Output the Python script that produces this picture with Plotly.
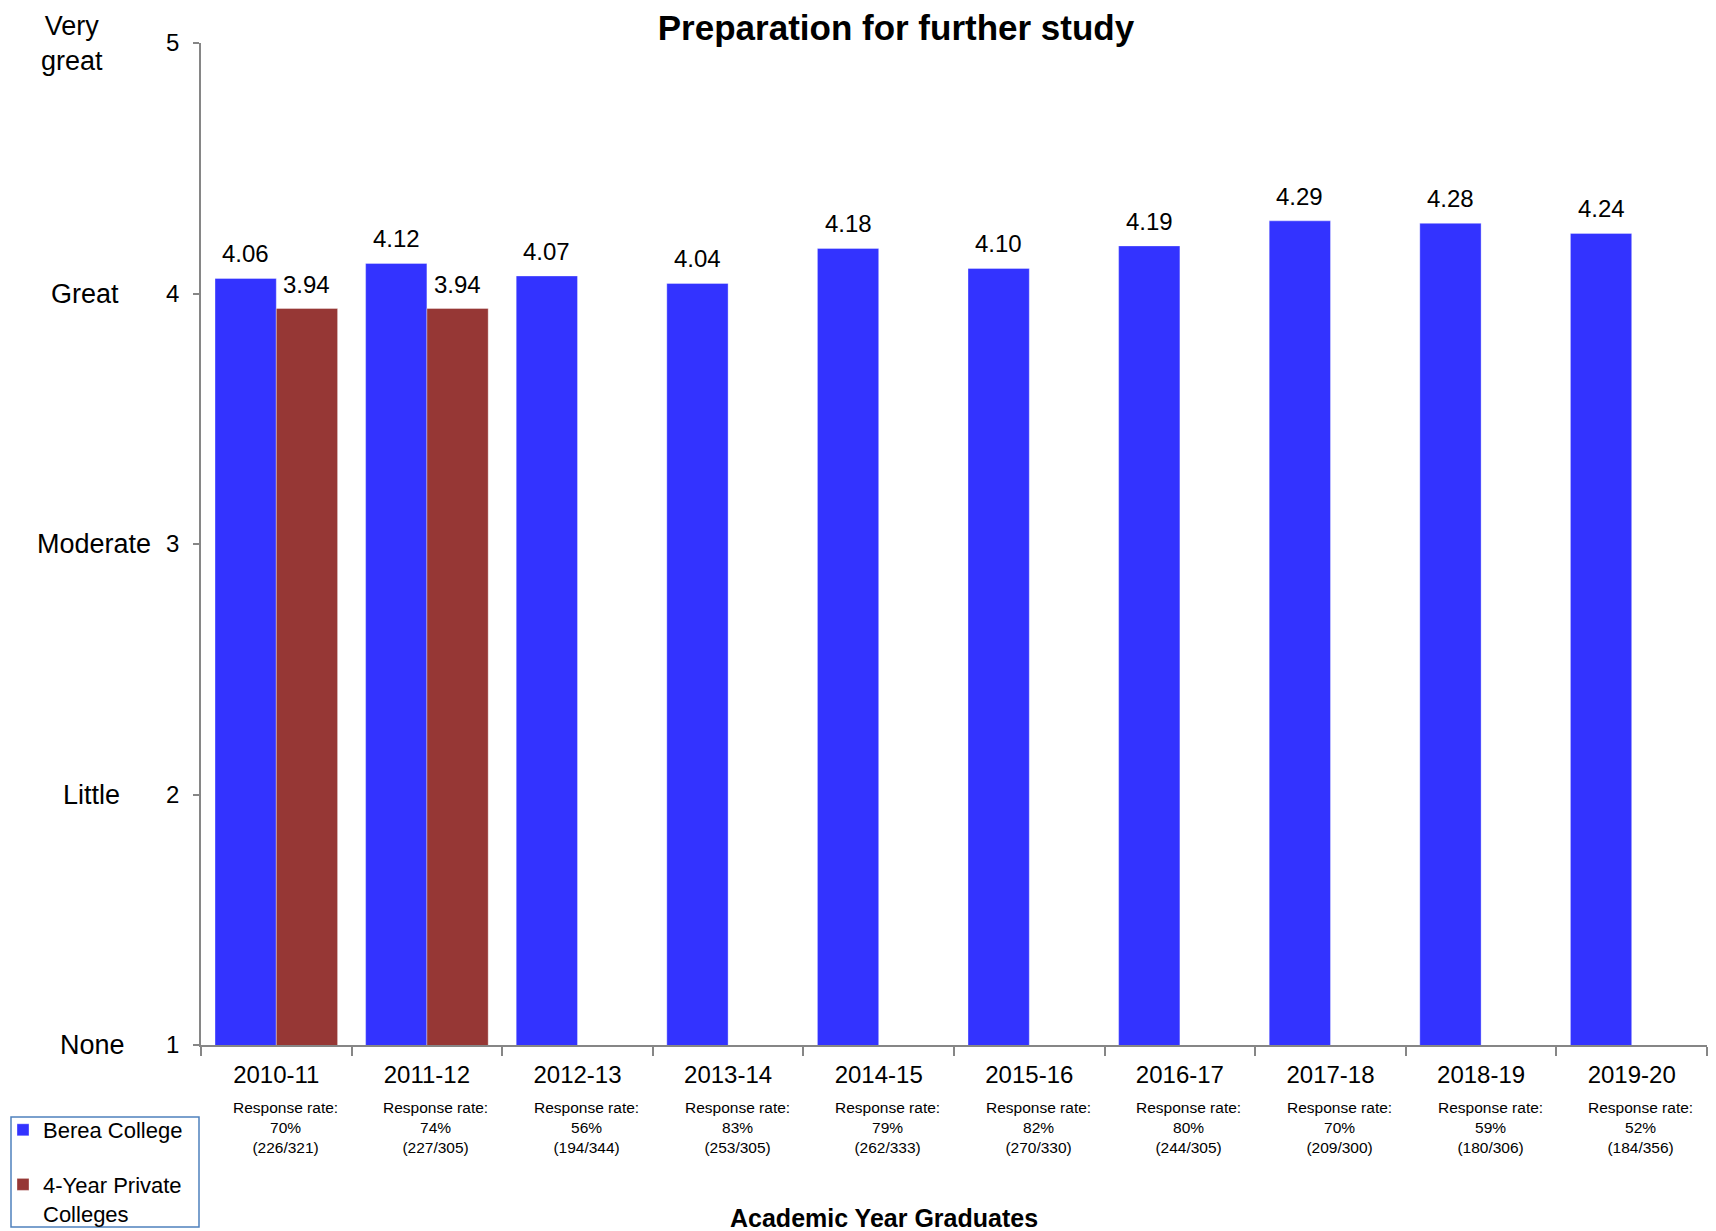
import plotly.graph_objects as go

years = ["2010-11", "2011-12", "2012-13", "2013-14", "2014-15",
         "2015-16", "2016-17", "2017-18", "2018-19", "2019-20"]
berea = [4.06, 4.12, 4.07, 4.04, 4.18, 4.10, 4.19, 4.29, 4.28, 4.24]
private = [3.94, 3.94, None, None, None, None, None, None, None, None]
resp_pct = ["70%", "74%", "56%", "83%", "79%", "82%", "80%", "70%", "59%", "52%"]
resp_n = ["(226/321)", "(227/305)", "(194/344)", "(253/305)", "(262/333)",
          "(270/330)", "(244/305)", "(209/300)", "(180/306)", "(184/356)"]
level_vals = [5, 4, 3, 2, 1]
level_names = ["Very<br>great", "Great", "Moderate", "Little", "None"]

FONT = "Liberation Sans, Arial, sans-serif"
BLUE = "#3333FF"
RED = "#963735"
AXIS = "#868686"
BARGAP = 0.186

# page has an 8px body margin: figure drawn from (8, 8)
OFF = 8
PAGE_W, PAGE_H = 1716, 1231
W, H = PAGE_W - OFF, PAGE_H - OFF
# plot area in page pixels
PX0, PX1, PY0, PY1 = 201, 1707, 43, 1045
L, R = PX0 - OFF, W - (PX1 - OFF)
T, B = PY0 - OFF, H - (PY1 - OFF)
PW = PX1 - PX0
PH = PY1 - PY0


def px_x(p):
    return (p - PX0) / PW


def px_y(p):
    return (PY1 - p) / PH


fig = go.Figure()
fig.add_bar(x=years, y=berea, name="Berea College", marker_color=BLUE,
            marker_line=dict(width=1, color="rgba(255,255,255,0.35)"),
            legendgroup="a")
fig.add_bar(x=years, y=private, name="4-Year Private<br>Colleges", marker_color=RED,
            marker_line=dict(width=1, color="rgba(255,255,255,0.35)"),
            legendgroup="b")

annotations = []
half = (1 - BARGAP) / 4
for i, v in enumerate(berea):
    annotations.append(dict(x=i - half, y=v, xref="x", yref="y", text=f"{v:.2f}",
                            showarrow=False, yanchor="bottom", yshift=9,
                            font=dict(size=24, color="black", family=FONT)))
for i, v in enumerate(private):
    if v is not None:
        annotations.append(dict(x=i + half, y=v, xref="x", yref="y", text=f"{v:.2f}",
                                showarrow=False, yanchor="bottom", yshift=9,
                                font=dict(size=24, color="black", family=FONT)))

for i, (p, n) in enumerate(zip(resp_pct, resp_n)):
    annotations.append(dict(x=years[i], y=px_y(1097), xref="x", yref="paper",
                            text=f"Response rate:<br>{p}<br>{n}", showarrow=False,
                            xanchor="center", yanchor="top", xshift=9,
                            font=dict(size=15.5, color="black", family=FONT)))

level_x = [72, 85, 94, 92, 93]
for lv, name, lx in zip(level_vals, level_names, level_x):
    annotations.append(dict(x=px_x(lx), y=lv, xref="paper", yref="y", text=name,
                            showarrow=False, xanchor="center", yanchor="middle",
                            font=dict(size=27, color="black", family=FONT)))

annotations.append(dict(x=px_x(884), y=px_y(1218), xref="paper", yref="paper",
                        text="<b>Academic Year Graduates</b>", showarrow=False,
                        xanchor="center", yanchor="middle",
                        font=dict(size=25, color="black", family=FONT)))

# legend frame (drawn separately so it fits the page like the reference)
legend_frame = dict(type="rect", xref="paper", yref="paper",
                    x0=px_x(11), x1=px_x(199), y0=px_y(1117), y1=px_y(1227),
                    line=dict(color="#4f81bd", width=1.5), fillcolor="rgba(0,0,0,0)",
                    layer="above")

fig.update_layout(
    width=W, height=H,
    margin=dict(l=L, r=R, t=T, b=B, autoexpand=False),
    paper_bgcolor="white", plot_bgcolor="white",
    barmode="group", bargap=BARGAP, bargroupgap=0,
    font=dict(family=FONT, color="black"),
    title=dict(text="<b>Preparation for further study</b>",
               x=(896 - OFF) / W, xref="container", xanchor="center",
               y=1 - (28 - OFF) / H, yref="container", yanchor="middle",
               font=dict(size=35, color="black", family=FONT)),
    xaxis=dict(type="category", showline=True, linecolor=AXIS, linewidth=1.5,
               ticks="outside", tickson="boundaries", ticklen=9, tickcolor=AXIS,
               tickwidth=1.5, tickfont=dict(size=24, color="black", family=FONT),
               ticklabelstandoff=7, showgrid=False, zeroline=False, automargin=False),
    yaxis=dict(range=[1, 5], tickvals=level_vals, showline=True, linecolor=AXIS,
               linewidth=1.5, ticks="outside", ticklen=6, tickcolor=AXIS, tickwidth=1.5,
               tickfont=dict(size=24, color="black", family=FONT),
               ticklabelstandoff=9, showgrid=False, zeroline=False, automargin=False),
    legend=dict(x=px_x(3), y=px_y(1109), xanchor="left", yanchor="top",
                borderwidth=0, bgcolor="rgba(0,0,0,0)",
                font=dict(size=22, color="black", family=FONT),
                traceorder="grouped", tracegroupgap=23, valign="top",
                itemwidth=30),
    shapes=[legend_frame],
    annotations=annotations,
    showlegend=True,
)

fig.write_html("out.html")
